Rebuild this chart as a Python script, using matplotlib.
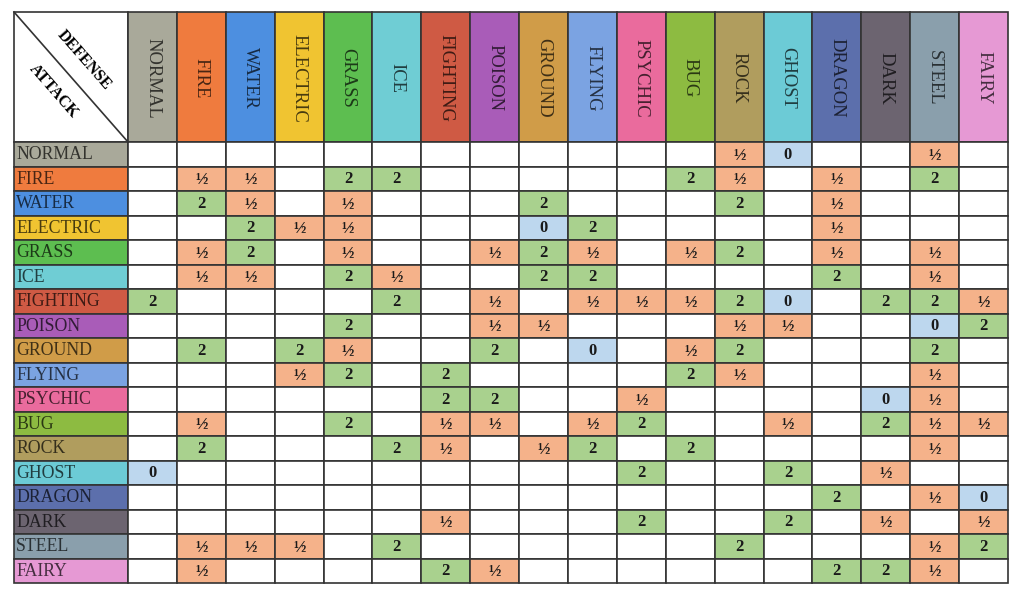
import matplotlib.pyplot as plt
from matplotlib.patches import Rectangle
from matplotlib.colors import to_rgb
import numpy as np

types = ['NORMAL', 'FIRE', 'WATER', 'ELECTRIC', 'GRASS', 'ICE', 'FIGHTING', 'POISON', 'GROUND',
         'FLYING', 'PSYCHIC', 'BUG', 'ROCK', 'GHOST', 'DRAGON', 'DARK', 'STEEL', 'FAIRY']
type_colors = ['#a9a99a', '#ef7b3e', '#4d8fe0', '#f0c431', '#5dbe50', '#6fcdd4', '#cf5a44', '#a95cb8',
               '#d09c48', '#7ba3e2', '#ea6b9d', '#8dbb41', '#b09d5e', '#6ccbd6', '#5c6fac', '#6c6470',
               '#8a9fac', '#e699d4']

# attack (rows) x defense (cols), 1 = normal damage
eff = [
    [1, 1, 1, 1, 1, 1, 1, 1, 1, 1, 1, 1, .5, 0, 1, 1, .5, 1],
    [1, .5, .5, 1, 2, 2, 1, 1, 1, 1, 1, 2, .5, 1, .5, 1, 2, 1],
    [1, 2, .5, 1, .5, 1, 1, 1, 2, 1, 1, 1, 2, 1, .5, 1, 1, 1],
    [1, 1, 2, .5, .5, 1, 1, 1, 0, 2, 1, 1, 1, 1, .5, 1, 1, 1],
    [1, .5, 2, 1, .5, 1, 1, .5, 2, .5, 1, .5, 2, 1, .5, 1, .5, 1],
    [1, .5, .5, 1, 2, .5, 1, 1, 2, 2, 1, 1, 1, 1, 2, 1, .5, 1],
    [2, 1, 1, 1, 1, 2, 1, .5, 1, .5, .5, .5, 2, 0, 1, 2, 2, .5],
    [1, 1, 1, 1, 2, 1, 1, .5, .5, 1, 1, 1, .5, .5, 1, 1, 0, 2],
    [1, 2, 1, 2, .5, 1, 1, 2, 1, 0, 1, .5, 2, 1, 1, 1, 2, 1],
    [1, 1, 1, .5, 2, 1, 2, 1, 1, 1, 1, 2, .5, 1, 1, 1, .5, 1],
    [1, 1, 1, 1, 1, 1, 2, 2, 1, 1, .5, 1, 1, 1, 1, 0, .5, 1],
    [1, .5, 1, 1, 2, 1, .5, .5, 1, .5, 2, 1, 1, .5, 1, 2, .5, .5],
    [1, 2, 1, 1, 1, 2, .5, 1, .5, 2, 1, 2, 1, 1, 1, 1, .5, 1],
    [0, 1, 1, 1, 1, 1, 1, 1, 1, 1, 2, 1, 1, 2, 1, .5, 1, 1],
    [1, 1, 1, 1, 1, 1, 1, 1, 1, 1, 1, 1, 1, 1, 2, 1, .5, 0],
    [1, 1, 1, 1, 1, 1, .5, 1, 1, 1, 2, 1, 1, 2, 1, .5, 1, .5],
    [1, .5, .5, .5, 1, 2, 1, 1, 1, 1, 1, 1, 2, 1, 1, 1, .5, 2],
    [1, .5, 1, 1, 1, 1, 2, .5, 1, 1, 1, 1, 1, 1, 2, 2, .5, 1],
]

cell_fill = {0.5: '#f5b28a', 2: '#a9d18e', 0: '#bdd7ee'}
cell_text = {0.5: '\u00bd', 2: '2', 0: '0'}

plt.rcParams['font.family'] = ['Liberation Serif', 'DejaVu Serif']

W, H = 1024, 599
fig = plt.figure(figsize=(W / 100, H / 100), dpi=100)
ax = fig.add_axes([0, 0, 1, 1])
ax.set_xlim(0, W)
ax.set_ylim(H, 0)
ax.axis('off')

# grid geometry (pixels)
x0, y0 = 14, 12
corner_w, head_h = 114, 130
n = len(types)
cw = (1008 - x0 - corner_w) / n
rh = (583 - y0 - head_h) / n
grid = '#333333'
lw = 1.2


def dark(c, f=0.3):
    return tuple(np.array(to_rgb(c)) * f)


# corner
ax.add_patch(Rectangle((x0, y0), corner_w, head_h, fc='white', ec=grid, lw=lw))
ax.plot([x0, x0 + corner_w], [y0, y0 + head_h], color=grid, lw=lw)
ang = -np.degrees(np.arctan2(head_h, corner_w))
ax.text(84, 60, 'DEFENSE', rotation=ang, ha='center', va='center', fontsize=11.5, fontweight='bold')
ax.text(54, 91, 'ATTACK', rotation=ang, ha='center', va='center', fontsize=11.5, fontweight='bold')

# column headers (defense)
for j, (t, c) in enumerate(zip(types, type_colors)):
    x = x0 + corner_w + j * cw
    ax.add_patch(Rectangle((x, y0), cw, head_h, fc=c, ec=grid, lw=lw))
    ax.text(x + cw / 2, y0 + head_h / 2 + 1, t, rotation=270, ha='center', va='center',
            fontsize=13.4, color=dark(c))

# rows (attack)
for i, (t, c) in enumerate(zip(types, type_colors)):
    y = y0 + head_h + i * rh
    ax.add_patch(Rectangle((x0, y), corner_w, rh, fc=c, ec=grid, lw=lw))
    ax.text(x0 + 2, y + rh / 2 + 0.5, t, ha='left', va='center', fontsize=12.8, color=dark(c))
    for j, v in enumerate(eff[i]):
        x = x0 + corner_w + j * cw
        fc = cell_fill.get(v, 'white')
        ax.add_patch(Rectangle((x, y), cw, rh, fc=fc, ec=grid, lw=lw))
        if v in cell_text:
            ax.text(x + cw / 2, y + rh / 2 + 0.5, cell_text[v], ha='center', va='center',
                    fontsize=12, fontweight='bold', color='#1a1a1a')

fig.savefig('out.png', dpi=100, facecolor='white')
